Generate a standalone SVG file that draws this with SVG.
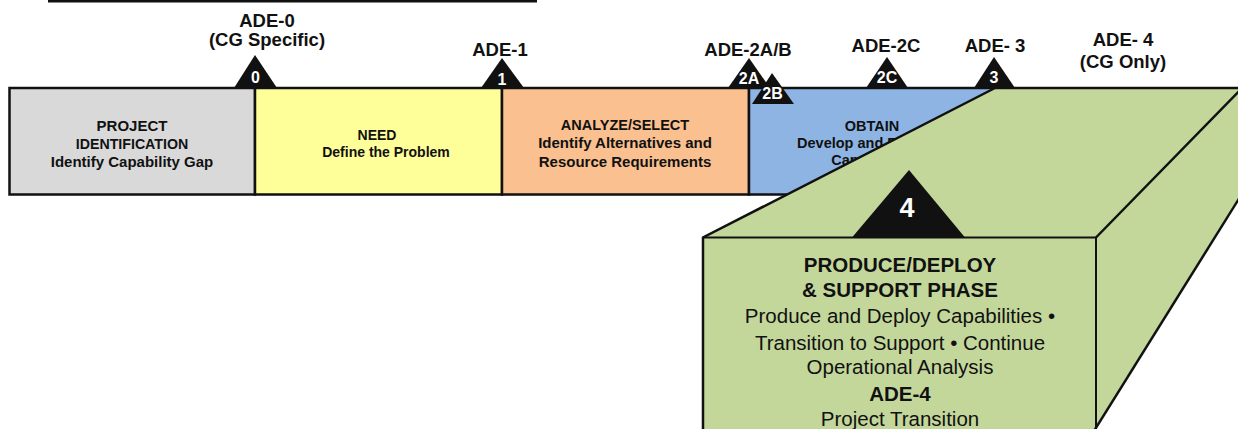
<svg xmlns="http://www.w3.org/2000/svg" width="1238" height="429" viewBox="0 0 1238 429">
  <defs>
    <style>
      .t { font-family: "Liberation Sans", Arial, sans-serif; font-weight: bold; text-anchor: middle; fill: #111; }
      .ms { font-size: 18.5px; }
      .cell { stroke: #111; stroke-width: 2.5; }
      .c15 { font-size: 15px; }
      .c14 { font-size: 14.5px; }
      .tri { fill: #111; }
      .num { font-family: "Liberation Sans", Arial, sans-serif; font-weight: bold; text-anchor: middle; fill: #fff; font-size: 16px; }
      .big { font-size: 27px; }
      .edge { fill: none; stroke: #111; stroke-width: 2.5; stroke-linejoin: miter; }
      .bx { font-family: "Liberation Sans", Arial, sans-serif; text-anchor: middle; fill: #111; font-size: 20.5px; }
      .bxb { font-weight: bold; }
    </style>
  </defs>

  <rect width="1238" height="429" fill="#fff"/>

  <!-- header rule -->
  <g id="connectors">
    <line x1="48" y1="1.2" x2="537" y2="1.2" stroke="#111" stroke-width="2.4"/>
  </g>

  <!-- phase bar -->
  <g id="phase-identification">
    <rect class="cell" x="9.5" y="88" width="245.5" height="106.5" fill="#d9d9d9"/>
    <text class="t c15" x="132" y="131">PROJECT</text>
    <text class="t" x="132" y="149" font-size="14.2">IDENTIFICATION</text>
    <text class="t c15" x="132" y="167">Identify Capability Gap</text>
  </g>
  <g id="phase-need">
    <rect class="cell" x="255" y="88" width="247" height="106.5" fill="#ffff99"/>
    <text class="t" x="377" y="140" font-size="14">NEED</text>
    <text class="t" x="386" y="157" font-size="14">Define the Problem</text>
  </g>
  <g id="phase-analyze">
    <rect class="cell" x="502" y="88" width="247" height="106.5" fill="#fac090"/>
    <text class="t c14" x="625" y="130">ANALYZE/SELECT</text>
    <text class="t c15" x="625" y="148">Identify Alternatives and</text>
    <text class="t c15" x="625" y="167">Resource Requirements</text>
  </g>
  <g id="phase-obtain">
    <rect class="cell" x="749" y="88" width="260" height="106.5" fill="#8eb4e3"/>
    <text class="t c14" x="872" y="131">OBTAIN</text>
    <text class="t c14" x="872" y="148">Develop and Evaluate</text>
    <text class="t c14" x="872" y="165">Capabilities</text>
  </g>

  <!-- produce / deploy block drawn as a box in perspective -->
  <g id="phase-produce">
    <polygon points="703,237.5 995,88 1260,88 1260,165 1096,427 1096,440 703,440" fill="#c4d79b"/>
    <polyline class="edge" points="703,440 703,237.5 995,88"/>
    <line x1="995" y1="88" x2="1238" y2="88" stroke="#111" stroke-width="2.5"/>
    <line class="edge" x1="1096" y1="237.5" x2="1246" y2="84"/>
    <line class="edge" x1="1260" y1="165" x2="1094" y2="431"/>
    <polyline fill="none" stroke="#111" stroke-width="2" points="703,237.5 1096,237.5 1096,440"/>

    <polygon class="tri" points="909,170 852,237.5 965,237.5"/>
    <text class="num big" x="907" y="217">4</text>

    <text class="bx bxb" x="900" y="271.5">PRODUCE/DEPLOY</text>
    <text class="bx bxb" x="900" y="297">&amp; SUPPORT PHASE</text>
    <text class="bx" x="900" y="323">Produce and Deploy Capabilities •</text>
    <text class="bx" x="900" y="349.5">Transition to Support • Continue</text>
    <text class="bx" x="900" y="374">Operational Analysis</text>
    <text class="bx bxb" x="900" y="401">ADE-4</text>
    <text class="bx" x="900" y="426">Project Transition</text>
  </g>

  <!-- decision milestones -->
  <g id="ade-0">
    <text class="t ms" x="267" y="27">ADE-0</text>
    <text class="t ms" x="267" y="46">(CG Specific)</text>
    <polygon class="tri" points="255,55 234,88 277,88"/>
    <text class="num" x="255.5" y="83">0</text>
  </g>
  <g id="ade-1">
    <text class="t ms" x="500" y="56">ADE-1</text>
    <polygon class="tri" points="502,58 481,88 524,88"/>
    <text class="num" x="502" y="85">1</text>
  </g>
  <g id="ade-2ab">
    <text class="t ms" x="748" y="56">ADE-2A/B</text>
    <polygon class="tri" points="749,58 728,88 770,88"/>
    <text class="num" x="749" y="84">2A</text>
    <polygon class="tri" points="772,73 752,104 794,104"/>
    <text class="num" x="772.5" y="99">2B</text>
  </g>
  <g id="ade-2c">
    <text class="t ms" x="886" y="52">ADE-2C</text>
    <polygon class="tri" points="887,57 866,88 908,88"/>
    <text class="num" x="887" y="83">2C</text>
  </g>
  <g id="ade-3">
    <text class="t ms" x="995" y="52">ADE- 3</text>
    <polygon class="tri" points="994,57 974,88 1015,88"/>
    <text class="num" x="994" y="83">3</text>
  </g>
  <g id="ade-4">
    <text class="t ms" x="1123" y="46">ADE- 4</text>
    <text class="t ms" x="1123" y="68">(CG Only)</text>
  </g>
</svg>
